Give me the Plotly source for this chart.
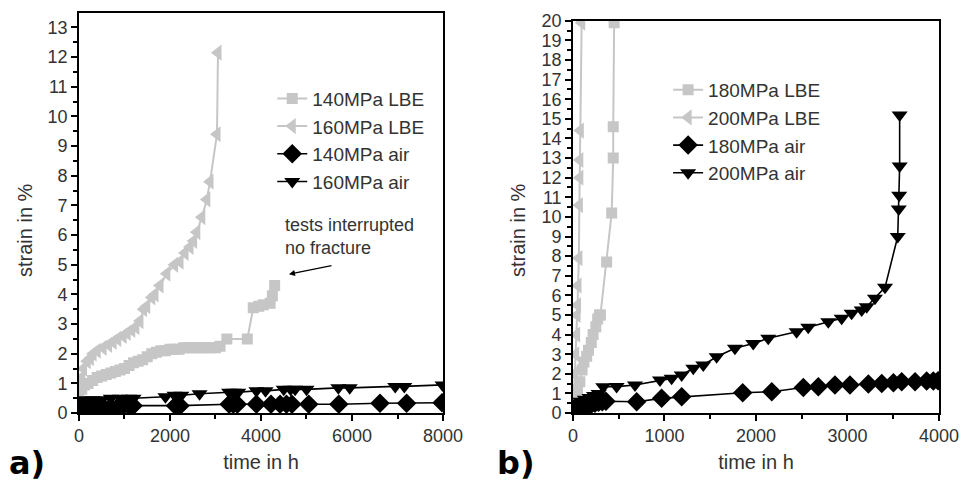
import plotly.graph_objects as go

# ---- panel a) ----
a_lbe140_x = [0, 60, 120, 200, 300, 400, 500, 600, 700, 800, 900, 1000, 1100, 1200, 1300, 1400, 1500, 1600, 1700, 1800, 1900, 2000, 2100, 2200, 2300, 2400, 2500, 2600, 2700, 2800, 2900, 3000, 3100, 3250, 3700, 3830, 3950, 4050, 4200, 4250, 4300]
a_lbe140_y = [0.5, 0.8, 0.95, 1.0, 1.1, 1.2, 1.25, 1.3, 1.35, 1.4, 1.45, 1.5, 1.6, 1.7, 1.75, 1.8, 1.9, 2.0, 2.05, 2.1, 2.1, 2.15, 2.15, 2.15, 2.2, 2.2, 2.2, 2.2, 2.2, 2.2, 2.2, 2.2, 2.25, 2.5, 2.5, 3.55, 3.6, 3.65, 3.7, 3.95, 4.3]

a_lbe160_x = [0, 60, 100, 180, 250, 310, 400, 530, 650, 750, 850, 970, 1060, 1160, 1250, 1340, 1420, 1490, 1600, 1670, 1780, 1930, 2100, 2220, 2330, 2440, 2520, 2590, 2700, 2810, 2880, 3033, 3055]
a_lbe160_y = [0.5, 1.2, 1.5, 1.75, 1.85, 2.0, 2.1, 2.2, 2.3, 2.4, 2.5, 2.6, 2.7, 2.8, 2.9, 3.1, 3.5, 3.6, 3.9, 4.0, 4.3, 4.7, 5.0, 5.1, 5.4, 5.6, 5.8, 6.1, 6.6, 7.2, 7.8, 9.4, 12.15]

a_air140_x = [0, 100, 250, 400, 530, 700, 850, 970, 1100, 1190, 2120, 2220, 3300, 3390, 3480, 3900, 4220, 4420, 4560, 4680, 5050, 5710, 6615, 7200, 7980]
a_air140_y = [0.15, 0.2, 0.2, 0.2, 0.2, 0.2, 0.2, 0.25, 0.25, 0.25, 0.25, 0.25, 0.3, 0.3, 0.3, 0.3, 0.3, 0.3, 0.3, 0.3, 0.3, 0.3, 0.33, 0.33, 0.35]

a_air160_x = [0, 150, 300, 500, 700, 900, 1100, 1200, 1900, 2100, 2250, 2650, 3300, 3400, 3500, 3900, 4100, 4500, 4650, 4750, 5000, 5700, 5950, 6950, 7150, 7990]
a_air160_y = [0.4, 0.45, 0.45, 0.45, 0.5, 0.5, 0.5, 0.5, 0.55, 0.6, 0.6, 0.65, 0.7, 0.7, 0.7, 0.75, 0.75, 0.8, 0.8, 0.8, 0.8, 0.85, 0.85, 0.9, 0.9, 0.95]

# ---- panel b) ----
b_lbe180_x = [0, 25, 50, 75, 100, 120, 150, 170, 200, 220, 250, 270, 290, 300, 368, 423, 440, 440, 450]
b_lbe180_y = [0.5, 0.8, 1.2, 1.6, 2.2, 2.6, 2.9, 3.2, 3.6, 4.0, 4.4, 4.8, 5.0, 5.0, 7.7, 10.2, 13.0, 14.6, 19.9]

b_lbe200_x = [0, 10, 20, 30, 40, 45, 50, 55, 65, 70, 75, 75, 80, 95]
b_lbe200_y = [0.5, 1.0, 2.0, 3.0, 4.0, 5.0, 5.5, 6.5, 7.9, 10.6, 12.0, 12.9, 14.4, 19.9]

b_air180_x = [0, 40, 80, 120, 160, 200, 240, 280, 320, 360, 696, 969, 1188, 1855, 2172, 2517, 2681, 2863, 3027, 3228, 3374, 3502, 3592, 3738, 3865, 3938, 3990]
b_air180_y = [0.2, 0.25, 0.3, 0.35, 0.4, 0.45, 0.5, 0.55, 0.58, 0.6, 0.58, 0.75, 0.83, 1.04, 1.09, 1.3, 1.34, 1.43, 1.43, 1.48, 1.51, 1.55, 1.6, 1.6, 1.63, 1.63, 1.65]

b_air200_x = [0, 30, 80, 130, 180, 230, 280, 331, 477, 678, 951, 1078, 1188, 1315, 1424, 1570, 1770, 1970, 2134, 2444, 2571, 2790, 2936, 3045, 3155, 3210, 3300, 3410, 3549, 3560, 3565, 3570, 3570]
b_air200_y = [0.3, 0.5, 0.6, 0.7, 0.8, 0.9, 1.0, 1.34, 1.35, 1.43, 1.68, 1.77, 1.94, 2.28, 2.45, 2.87, 3.3, 3.55, 3.81, 4.15, 4.37, 4.66, 4.83, 5.09, 5.26, 5.42, 5.85, 6.41, 9.0, 10.4, 11.1, 12.6, 15.2]

GREY = "#c6c6c6"
BLACK = "#000000"
TXT = "#333333"
FONT = "Liberation Sans, Arial, sans-serif"

fig = go.Figure()

def add(x, y, name, color, symbol, size, xa, ya, legend):
    fig.add_trace(go.Scatter(
        x=x, y=y, name=name, mode="lines+markers",
        line=dict(color=color, width=2 if color == GREY else 1.6),
        marker=dict(symbol=symbol, size=size, color=color),
        xaxis=xa, yaxis=ya, legend=legend))

add(a_lbe140_x, a_lbe140_y, "140MPa LBE", GREY, "square", 11, "x", "y", "legend")
add(a_lbe160_x, a_lbe160_y, "160MPa LBE", GREY, "triangle-left", 14, "x", "y", "legend")
add(a_air140_x, a_air140_y, "140MPa air", BLACK, "diamond", 15, "x", "y", "legend")
add(a_air160_x, a_air160_y, "160MPa air", BLACK, "triangle-down", 14, "x", "y", "legend")

add(b_lbe180_x, b_lbe180_y, "180MPa LBE", GREY, "square", 11, "x2", "y2", "legend2")
add(b_lbe200_x, b_lbe200_y, "200MPa LBE", GREY, "triangle-left", 14, "x2", "y2", "legend2")
add(b_air180_x, b_air180_y, "180MPa air", BLACK, "diamond", 15, "x2", "y2", "legend2")
add(b_air200_x, b_air200_y, "200MPa air", BLACK, "triangle-down", 14, "x2", "y2", "legend2")

axis_common = dict(showline=True, mirror=True, linecolor=BLACK, linewidth=1.5,
                   ticks="outside", ticklen=6, tickwidth=1.5, tickcolor=BLACK,
                   showgrid=False, zeroline=False, automargin=False,
                   tickfont=dict(family=FONT, size=18, color=TXT),
                   title_font=dict(family=FONT, size=20, color=TXT))

fig.update_layout(
    width=962, height=482,
    margin=dict(l=0, r=0, t=0, b=0),
    paper_bgcolor="white", plot_bgcolor="white",
    xaxis=dict(domain=[0.0821, 0.4605], range=[0, 8000], dtick=2000, anchor="y",
               minor=dict(ticks="outside", ticklen=4, dtick=1000, tickcolor=BLACK),
               title=dict(text="time in h", standoff=10), **axis_common),
    yaxis=dict(domain=[0.143, 0.972], range=[0, 13.47], dtick=1, anchor="x",
               minor=dict(ticks="outside", ticklen=4, dtick=0.5, tickcolor=BLACK),
               **axis_common),
    xaxis2=dict(domain=[0.5956, 0.9761], range=[0, 4000], dtick=1000, anchor="y2",
                minor=dict(ticks="outside", ticklen=4, dtick=500, tickcolor=BLACK),
                title=dict(text="time in h", standoff=10), **axis_common),
    yaxis2=dict(domain=[0.143, 0.957], range=[0, 20], dtick=1, anchor="x2",
                minor=dict(ticks="outside", ticklen=4, dtick=0.5, tickcolor=BLACK),
                **axis_common),
    legend=dict(x=0.283, y=0.835, xanchor="left", yanchor="top",
                bgcolor="rgba(0,0,0,0)", tracegroupgap=0,
                font=dict(family=FONT, size=19, color=TXT)),
    legend2=dict(x=0.6945, y=0.853, xanchor="left", yanchor="top",
                 bgcolor="rgba(0,0,0,0)", tracegroupgap=0,
                 font=dict(family=FONT, size=19, color=TXT)),
    showlegend=True,
)

# y-axis titles placed as in the reference
fig.add_annotation(x=25 / 962, y=1 - 230 / 482, xref="paper", yref="paper",
                   text="strain in %", textangle=-90, showarrow=False,
                   xanchor="center", yanchor="middle",
                   font=dict(family=FONT, size=20, color=TXT))
fig.add_annotation(x=518 / 962, y=1 - 230 / 482, xref="paper", yref="paper",
                   text="strain in %", textangle=-90, showarrow=False,
                   xanchor="center", yanchor="middle",
                   font=dict(family=FONT, size=20, color=TXT))

fig.add_annotation(x=4615, y=4.68, ax=5582, ay=4.98, xref="x", yref="y",
                   axref="x", ayref="y", text="", showarrow=True,
                   arrowhead=2, arrowsize=1, arrowwidth=1.2, arrowcolor=BLACK)
fig.add_annotation(x=4490, y=5.95, xref="x", yref="y", xanchor="left",
                   text="tests interrupted<br>no fracture", showarrow=False,
                   align="left", font=dict(family=FONT, size=18, color=TXT))

fig.add_annotation(x=0.007, y=0.04, xref="paper", yref="paper", text="<b>a)</b>",
                   xanchor="left", yanchor="middle",
                   showarrow=False, font=dict(family="DejaVu Sans", size=32, color=BLACK))
fig.add_annotation(x=0.515, y=0.04, xref="paper", yref="paper", text="<b>b)</b>",
                   xanchor="left", yanchor="middle",
                   showarrow=False, font=dict(family="DejaVu Sans", size=32, color=BLACK))

fig.write_html("out.html", config={"displayModeBar": False},
               post_script="document.body.style.margin='0';")
